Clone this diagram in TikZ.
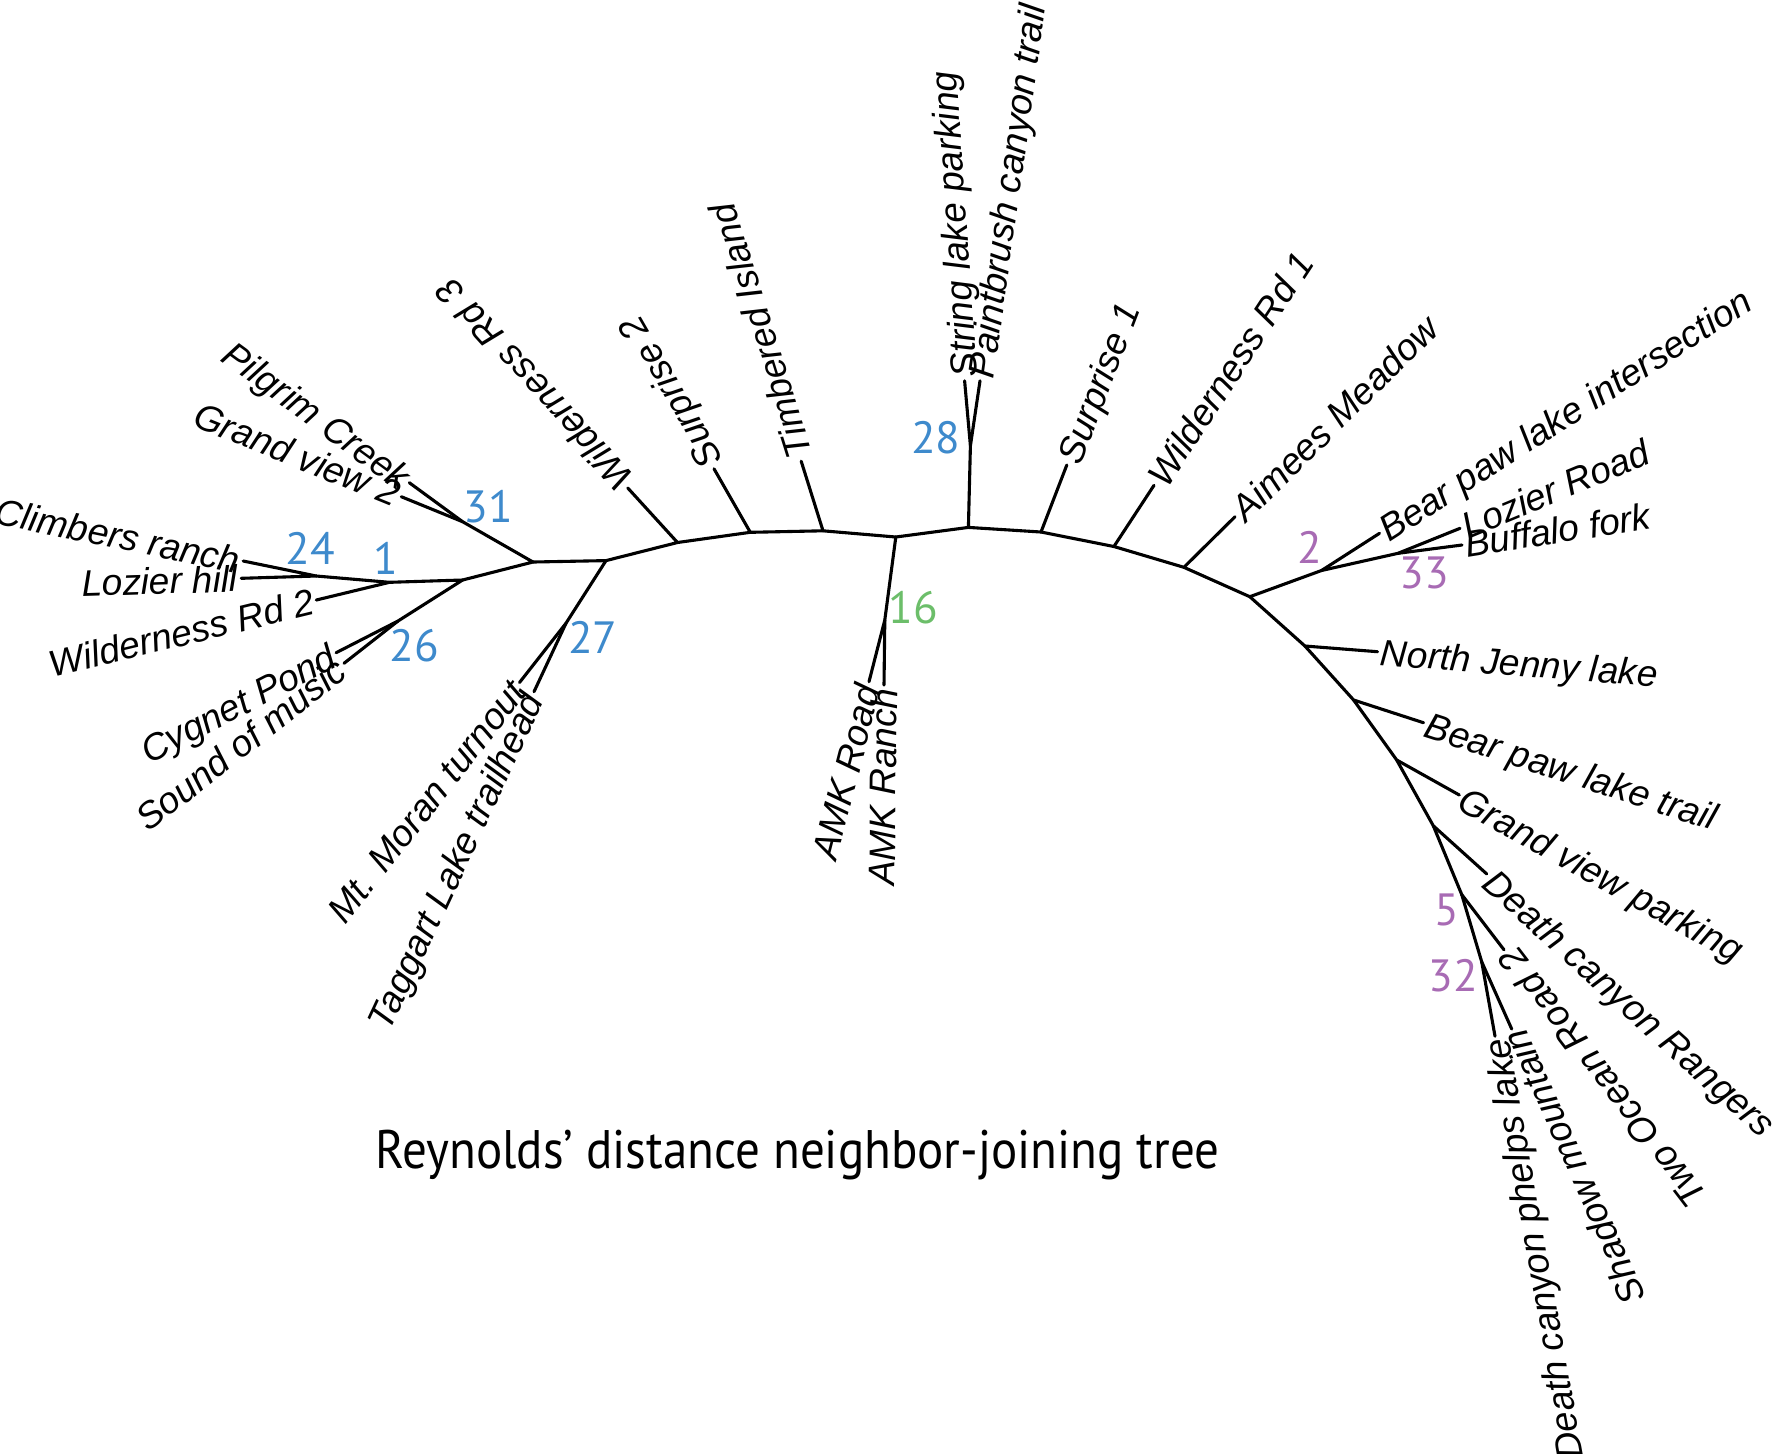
\documentclass[tikz,border=0pt]{standalone}
\usepackage{fontspec}
\setmainfont{Liberation Sans}
\newfontfamily\leafff{Liberation Sans}
\newfontfamily\numff{PT Sans}
\definecolor{nblue}{HTML}{3E8ACC}
\definecolor{ngreen}{HTML}{6CBE6A}
\definecolor{npurple}{HTML}{A86BB4}
\tikzset{
  br/.style={line width=1.55pt, line join=round, line cap=round},
  lab/.style={font=\leafff\itshape\fontsize{18.5}{22}\selectfont, inner xsep=1.5pt, inner ysep=0pt, text height=13.3pt, text depth=0pt},
  lw/.style={lab, anchor=west, rotate=#1},
  le/.style={lab, anchor=east, rotate=#1},
  num/.style={font=\numff\fontsize{22.6}{26}\selectfont, inner sep=0pt, text height=15.8pt, text depth=0pt, anchor=center},
  nb/.style={num, text=nblue},
  ng/.style={num, text=ngreen},
  np/.style={num, text=npurple}
}
\begin{document}
\begin{tikzpicture}[x=0.5pt, y=-0.5pt]
\useasboundingbox (0,0) rectangle (1776,1453);
% internal nodes
\coordinate (n24) at (316.3,576);
\coordinate (n1) at (389.5,582.3);
\coordinate (n26) at (462.6,580);
\coordinate (ncs) at (398,621);
\coordinate (n31) at (462.6,521.7);
\coordinate (na) at (533,562);
\coordinate (n27) at (606,560.6);
\coordinate (n27s) at (566,623.2);
\coordinate (bw3) at (677.5,542.5);
\coordinate (bs2) at (750.3,532.3);
\coordinate (bti) at (823,530.8);
\coordinate (bamk) at (895.8,537);
\coordinate (n16) at (884.8,620);
\coordinate (b28) at (968.4,527.4);
\coordinate (n28) at (970.4,445.8);
\coordinate (bs1) at (1041,532);
\coordinate (bw1) at (1113.9,546.5);
\coordinate (bam) at (1183.9,567.3);
\coordinate (bbig) at (1249.8,596.7);
\coordinate (n2) at (1321.5,570.5);
\coordinate (n33) at (1398,553.3);
\coordinate (bnj) at (1304.9,646);
\coordinate (bbpt) at (1353.6,700);
\coordinate (bgvp) at (1396.7,760);
\coordinate (bdcr) at (1433.3,825.8);
\coordinate (n5) at (1461.7,894.5);
\coordinate (n32) at (1481.7,961.8);
% tips
\coordinate (tpil) at (409.3,482.7);
\coordinate (tgv2) at (401.3,496.7);
\coordinate (tcli) at (243.2,561);
\coordinate (tlh) at (241.2,578.3);
\coordinate (tw2) at (316.3,600);
\coordinate (tcyg) at (336.1,652.7);
\coordinate (tsom) at (344,663.3);
\coordinate (tmor) at (519.5,682.5);
\coordinate (ttag) at (534,691.7);
\coordinate (tw3) at (627.8,488);
\coordinate (ts2) at (714,468.8);
\coordinate (tti) at (801.2,461.2);
\coordinate (tstr) at (964.6,380.8);
\coordinate (tpai) at (980,380.8);
\coordinate (ts1) at (1066.8,465);
\coordinate (tw1) at (1154,485.3);
\coordinate (tam) at (1235,516.7);
\coordinate (tbpi) at (1379.5,533.3);
\coordinate (tlr) at (1460,528.3);
\coordinate (tbf) at (1462,545);
\coordinate (tnj) at (1377.5,651.7);
\coordinate (tbpt) at (1423.5,722.7);
\coordinate (tgvp) at (1459.3,795);
\coordinate (tdcr) at (1486.7,873.9);
\coordinate (tto) at (1504,949.8);
\coordinate (tsm) at (1511.7,1029);
\coordinate (tdcp) at (1495,1036.2);
\coordinate (tamr) at (869,681.7);
\coordinate (tamn) at (884,685);
% branches
\draw[br] (tcli) -- (n24) -- (tlh);
\draw[br] (n24) -- (n1) -- (tw2);
\draw[br] (n1) -- (n26) -- (ncs) -- (tcyg);
\draw[br] (ncs) -- (tsom);
\draw[br] (n26) -- (na) -- (n31) -- (tpil);
\draw[br] (n31) -- (tgv2);
\draw[br] (na) -- (n27) -- (n27s) -- (tmor);
\draw[br] (n27s) -- (ttag);
\draw[br] (n27) -- (bw3) -- (tw3);
\draw[br] (bw3) -- (bs2) -- (ts2);
\draw[br] (bs2) -- (bti) -- (tti);
\draw[br] (bti) -- (bamk) -- (n16) -- (tamr);
\draw[br] (n16) -- (tamn);
\draw[br] (bamk) -- (b28) -- (n28) -- (tstr);
\draw[br] (n28) -- (tpai);
\draw[br] (b28) -- (bs1) -- (ts1);
\draw[br] (bs1) -- (bw1) -- (tw1);
\draw[br] (bw1) -- (bam) -- (tam);
\draw[br] (bam) -- (bbig) -- (n2) -- (tbpi);
\draw[br] (n2) -- (n33) -- (tlr);
\draw[br] (n33) -- (tbf);
\draw[br] (bbig) -- (bnj) -- (tnj);
\draw[br] (bnj) -- (bbpt) -- (tbpt);
\draw[br] (bbpt) -- (bgvp) -- (tgvp);
\draw[br] (bgvp) -- (bdcr) -- (tdcr);
\draw[br] (bdcr) -- (n5) -- (tto);
\draw[br] (n5) -- (n32) -- (tsm);
\draw[br] (n32) -- (tdcp);
% leaf labels
\node[le=-36.2] (lpil) at (tpil) {Pilgrim Creek};
\node[le=-22.2] (lgv2) at (tgv2) {Grand view 2};
\node[le=-11.6] (lcli) at (tcli) {Climbers ranch};
\node[le=1.8] (llh) at (tlh) {Lozier hill};
\node[le=13.6] (lw2) at (tw2) {Wilderness Rd 2};
\node[le=27.3] (lcyg) at (tcyg) {Cygnet Pond};
\node[le=38] (lsom) at (tsom) {Sound of music};
\node[le=51.9] (lmor) at (tmor) {Mt. Moran turnout};
\node[le=65] (ltag) at (ttag) {Taggart Lake trailhead};
\node[lw=132.3] (lw3) at (tw3) {Wilderness Rd 3};
\node[lw=120] (ls2) at (ts2) {Surprise 2};
\node[lw=107.4] (lti) at (tti) {Timbered Island};
\node[lw=94] (lstr) at (tstr) {String lake parking};
\node[lw=82] (lpai) at (tpai) {Paintbrush canyon trail};
\node[lw=69] (ls1) at (ts1) {Surprise 1};
\node[lw=56.8] (lw1) at (tw1) {Wilderness Rd 1};
\node[lw=44.7] (lam) at (tam) {Aimees Meadow};
\node[lw=32.7] (lbpi) at (tbpi) {Bear paw lake intersection};
\node[lw=22.5] (llr) at (tlr) {Lozier Road};
\node[lw=9] (lbf) at (tbf) {Buffalo fork};
\node[lw=-4.5] (lnj) at (tnj) {North Jenny lake};
\node[lw=-18] (lbpt) at (tbpt) {Bear paw lake trail};
\node[lw=-29.2] (lgvp) at (tgvp) {Grand view parking};
\node[lw=-42] (ldcr) at (tdcr) {Death canyon Rangers};
\node[le=127.4] (lto) at (tto) {Two Ocean Road 2};
\node[le=114.1] (lsm) at (tsm) {Shadow mountain};
\node[le=100.1] (ldcp) at (tdcp) {Death canyon phelps lake};
\node[le=75.6] (lamr) at (tamr) {AMK Road};
\node[le=89.3] (lamn) at (tamn) {AMK Ranch};
% support numbers
\node[nb] (k31) at (488.3,506.7) {31};
\node[nb] (k24) at (310.4,548.3) {24};
\node[nb] (k1) at (385.5,558.3) {1};
\node[nb] (k26) at (414.2,645.8) {26};
\node[nb] (k27) at (592.8,637.5) {27};
\node[ng] (k16) at (913.3,608) {16};
\node[nb] (k28) at (935.8,437.5) {28};
\node[np] (k2) at (1310,547.5) {2};
\node[np] (k33) at (1424.2,572.5) {33};
\node[np] (k5) at (1446.7,910) {5};
\node[np] (k32) at (1453.3,976) {32};
% title
\node[anchor=base west, inner sep=0pt] (title) at (375.5,1168.3) {\resizebox{421.8pt}{19.2pt}{\numff Reynolds’ distance neighbor-joining tree}};
\end{tikzpicture}
\end{document}
